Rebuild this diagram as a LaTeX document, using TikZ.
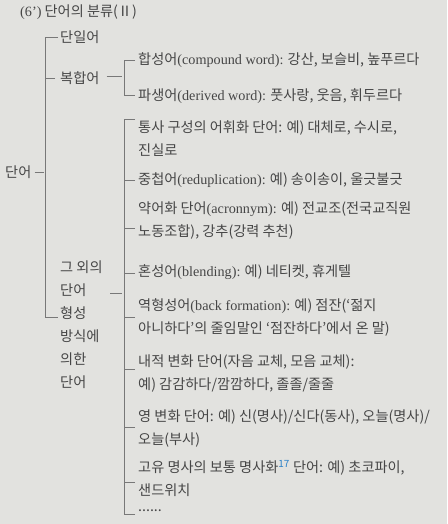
\documentclass[tikz,border=0pt]{standalone}
\usepackage{fontspec}
\usepackage{xcolor}
\usepackage{tikz}
\usetikzlibrary{calc}
\setmainfont{Noto Sans CJK KR}
\newfontfamily\latfont{Liberation Serif}
\newcommand{\en}[1]{{\latfont #1}}
\definecolor{paper}{RGB}{226,226,223}
\definecolor{ink}{RGB}{70,70,70}
\definecolor{rulegray}{RGB}{120,120,120}
\definecolor{notecol}{RGB}{45,130,200}

\begin{document}
\begin{tikzpicture}[x=1pt,y=-1pt,
	item/.style={anchor=west, inner sep=0pt, align=left, text=ink, font=\fontsize{14.2}{23}\selectfont},
	branch/.style={draw=rulegray, line width=0.6pt}]
	\fill[paper] (0,0) rectangle (447,524);
	\useasboundingbox (0,0) rectangle (447,524);
	% title and the first level
	\node[item] (title) at (20,12) {\en{(6’)} 단어의 분류(Ⅱ)};
	\node[item] (root) at (5,172) {단어};
	\node[item] (simple) at (60,37) {단일어};
	\node[item] (compound) at (60,78) {복합어};
	\node[item] (other) at (60,325) {그 외의\\단어\\형성\\방식에\\의한\\단어};
	
	% compound words
	\node[item] (cpd) at (138,60) {합성어\en{(compound word):} 강산, 보슬비, 높푸르다};
	\node[item] (der) at (138,96) {파생어\en{(derived word):} 풋사랑, 웃음, 휘두르다};
	
	% other ways of word formation
	\node[item] (syn) at (138,138.5) {통사 구성의 어휘화 단어: 예) 대체로, 수시로,\\진실로};
	\node[item] (dup) at (138,180) {중첩어\en{(reduplication):} 예) 송이송이, 울긋불긋};
	\node[item] (acr) at (138,220.5) {약어화 단어\en{(acronnym):} 예) 전교조(전국교직원\\노동조합), 강추(강력 추천)};
	\node[item] (blend) at (138,272) {혼성어\en{(blending):} 예) 네티켓, 휴게텔};
	\node[item] (back) at (138,317.5) {역형성어\en{(back formation):} 예) 점잔(‘젊지\\아니하다’의 줄임말인 ‘점잔하다’에서 온 말)};
	\node[item] (inner) at (138,374) {내적 변화 단어(자음 교체, 모음 교체):\\예) 감감하다/깜깜하다, 졸졸/줄줄};
	\node[item] (zero) at (138,429) {영 변화 단어: 예) 신(명사)/신다(동사), 오늘(명사)/\\오늘(부사)};
	\node[item] (proper) at (138,478.5) {고유 명사의 보통 명사화\textsuperscript{\color{notecol}17} 단어: 예) 초코파이,\\샌드위치};
	\node[item] (dots) at (138,511) {......};
	
	% the bracket of the first level
	\coordinate (sp1) at (45,0);
	\draw[branch] ($(simple.west)+(-2,0)$) -- (sp1 |- simple.west) -- ($(sp1 |- other.west)+(0,-8)$) -- ($(other.west)+(-2,-8)$);
	\draw[branch] ($(compound.west)+(-5,0)$) -- (sp1 |- compound.west);
	\draw[branch] ($(root.east)+(3,0)$) -- ($(sp1 |- root.east)+(-1,0)$);
	
	% the bracket of compound words
	\coordinate (sp2) at (124,0);
	\draw[branch] ($(cpd.west)+(-3,0)$) -- (sp2 |- cpd.west) -- ($(sp2 |- der.west)+(0,-1)$) -- ($(der.west)+(-3,-1)$);
	\draw[branch] ($(compound.east)+(7,-2)$) -- ($(sp2 |- compound.east)+(-2,-2)$);
	
	% the bracket of the other words
	\draw[branch] ($(sp2 |- syn.west)+(0,-19.5)$) -- ($(sp2 |- dots.west)+(0,3)$);
	\foreach \n/\dy in {syn/-19.5, dup/0, acr/7.5, blend/1, back/0, inner/-5, zero/-2, proper/3.5, dots/3}
		\draw[branch] ($(\n.west)+(-3,\dy)$) -- ($(sp2 |- \n.west)+(0,\dy)$);
	\coordinate (otherout) at (110,293);
	\draw[branch] (otherout) -- ($(sp2 |- otherout)+(-2,0)$);
\end{tikzpicture}
\end{document}
